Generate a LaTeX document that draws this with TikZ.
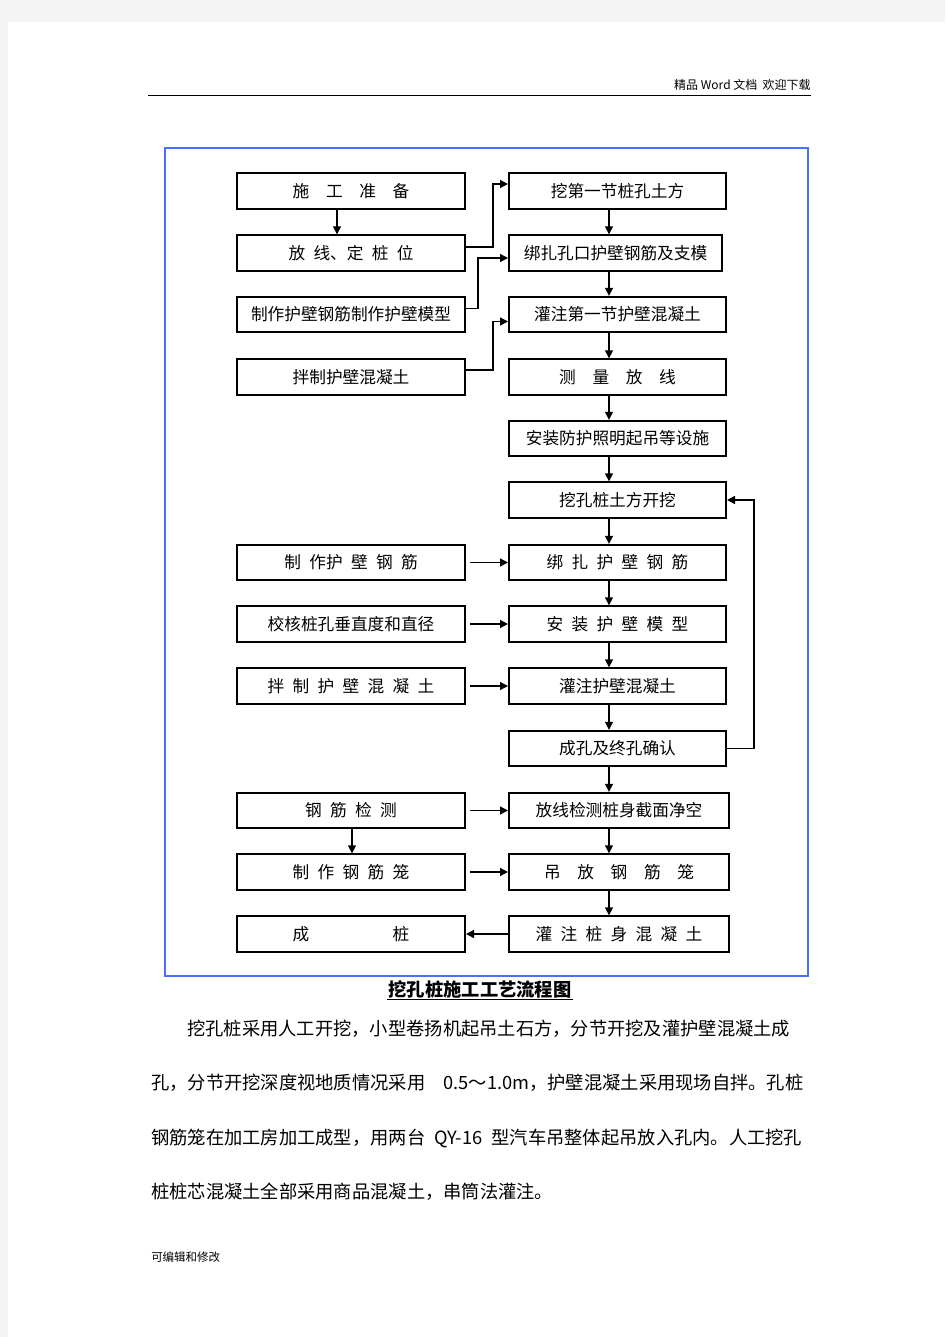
\documentclass[tikz,border=0pt]{standalone}
\usepackage{fontspec}
\setmainfont{Noto Sans CJK SC}
\usetikzlibrary{arrows.meta, calc}

\definecolor{framebl}{RGB}{72,112,255}
\definecolor{pagegray}{RGB}{243,243,243}

\tikzset{
  lbox/.style={draw, line width=1.5pt, minimum width=171pt, minimum height=26.5pt,
    inner sep=0pt, font=\fontsize{12.5}{15}\selectfont},
  rbox/.style={lbox, minimum width=162.75pt},
  arr/.style={line width=1pt, -{Triangle[length=6pt,width=6pt]}},
  para/.style={anchor=west, inner sep=0pt, font=\fontsize{13.7}{16}\selectfont},
}

\begin{document}
\begin{tikzpicture}[x=0.75pt,y=-0.75pt]
  \useasboundingbox (0,0) rectangle (945,1337);
  \fill[pagegray] (0,0) rectangle (945,1337);
  \fill[white] (8,22) rectangle (945,1337);

  % page header
  \node[anchor=east, inner sep=0pt, font=\fontsize{9}{10}\selectfont] (head) at (811,85) {精品 Word 文档\ \ 欢迎下载};
  \draw[line width=0.75pt] (148,96) -- (811,96);

  % frame
  \draw[framebl, line width=1.5pt] (165,148) rectangle (808,976);

  % helper columns
  \coordinate (colL) at (337,0);
  \coordinate (colK) at (352,0);
  \coordinate (colR) at (609,0);

  % left column
  \node[lbox] (L1) at (351,191) {施\quad 工\quad 准\quad 备};
  \node[lbox] (L2) at (351,253) {放\enspace 线、定\enspace 桩\enspace 位};
  \node[lbox] (L3) at (351,314.5) {制作护壁钢筋制作护壁模型};
  \node[lbox] (L4) at (351,377) {拌制护壁混凝土};
  \node[lbox] (L7) at (351,562.5) {制\enspace 作护\enspace 壁\enspace 钢\enspace 筋};
  \node[lbox] (L8) at (351,624) {校核桩孔垂直度和直径};
  \node[lbox] (L9) at (351,686) {拌\enspace 制\enspace 护\enspace 壁\enspace 混\enspace 凝\enspace 土};
  \node[lbox] (L11) at (351,810.5) {钢\enspace 筋\enspace 检\enspace 测};
  \node[lbox] (L12) at (351,872) {制\enspace 作\enspace 钢\enspace 筋\enspace 笼};
  \node[lbox] (L13) at (351,934) {成\hspace{5em}桩};

  % right column
  \node[rbox] (R1) at (617.5,191) {挖第一节桩孔土方};
  \node[rbox, minimum width=159.75pt] (R2) at (615.5,253) {绑扎孔口护壁钢筋及支模};
  \node[rbox] (R3) at (617.5,314.5) {灌注第一节护壁混凝土};
  \node[rbox] (R4) at (617.5,377) {测\quad 量\quad 放\quad 线};
  \node[rbox] (R5) at (617.5,438.5) {安装防护照明起吊等设施};
  \node[rbox] (R6) at (617.5,500) {挖孔桩土方开挖};
  \node[rbox] (R7) at (617.5,562.5) {绑\enspace 扎\enspace 护\enspace 壁\enspace 钢\enspace 筋};
  \node[rbox] (R8) at (617.5,624) {安\enspace 装\enspace 护\enspace 壁\enspace 模\enspace 型};
  \node[rbox] (R9) at (617.5,686) {灌注护壁混凝土};
  \node[rbox] (R10) at (617.5,748.5) {成孔及终孔确认};
  \node[rbox, minimum width=165pt] (R11) at (619,810.5) {放线检测桩身截面净空};
  \node[rbox, minimum width=165pt] (R12) at (619,872) {吊\quad 放\quad 钢\quad 筋\quad 笼};
  \node[rbox, minimum width=165pt] (R13) at (619,934) {灌\enspace 注\enspace 桩\enspace 身\enspace 混\enspace 凝\enspace 土};

  % connectors
  \draw[arr] (L1.south -| colL) -- (L2.north -| colL);
  \draw[arr] ($(L2.east)+(0,-6)$) -- ++(27,0) |- ($(R1.west)+(0,-7)$);
  \draw[arr] ($(L3.east)+(0,-6)$) -- ++(12,0) |- ($(R2.west)+(0,5)$);
  \draw[arr] ($(L4.east)+(0,-7)$) -- ++(27,0) |- ($(R3.west)+(0,7)$);
  \foreach \a/\b in {R1/R2, R2/R3, R3/R4, R4/R5, R5/R6, R6/R7, R7/R8, R8/R9, R9/R10, R10/R11, R11/R12, R12/R13}
    \draw[arr] (\a.south -| colR) -- (\b.north -| colR);
  \foreach \a/\b in {L7/R7, L8/R8, L9/R9, L11/R11, L12/R12}
    \draw[arr] ($(\a.east)+(4,0)$) -- (\b.west);
  \draw[arr] (R10.east) -- ++(27,0) |- (R6.east);
  \draw[arr] (L11.south -| colK) -- (L12.north -| colK);
  \draw[arr] (R13.west) -- (L13.east);

  % caption
  \node[inner sep=1pt, font=\fontsize{13.7}{16}\selectfont\bfseries] (cap) at (480,989) {挖孔桩施工工艺流程图};
  \draw[line width=0.75pt] (cap.south west) -- (cap.south east);

  % body text
  \node[para] (p1) at (187,1029) {挖孔桩采用人工开挖，小型卷扬机起吊土石方，分节开挖及灌护壁混凝土成};
  \node[para] (p2) at (151,1083) {孔，分节开挖深度视地质情况采用\quad 0.5～1.0m，护壁混凝土采用现场自拌。孔桩};
  \node[para] (p3) at (151,1138) {钢筋笼在加工房加工成型，用两台\enspace QY-16\enspace 型汽车吊整体起吊放入孔内。人工挖孔};
  \node[para] (p4) at (151,1192) {桩桩芯混凝土全部采用商品混凝土，串筒法灌注。};

  % footer
  \node[anchor=west, inner sep=0pt, font=\fontsize{8.6}{10}\selectfont] (foot) at (151,1257) {可编辑和修改};
\end{tikzpicture}
\end{document}
